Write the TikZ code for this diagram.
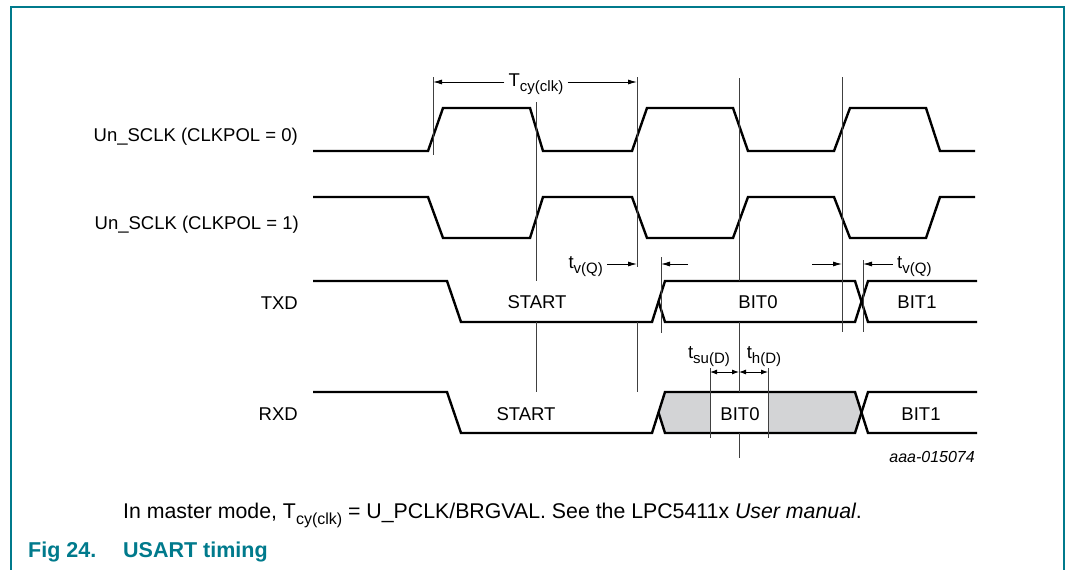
\documentclass[tikz,border=0pt]{standalone}
\usepackage{fontspec}
\setmainfont{Liberation Sans}
\usetikzlibrary{arrows.meta}
\definecolor{nxpteal}{RGB}{0,122,140}
\definecolor{shadegray}{RGB}{211,212,214}
\newcommand\lowsub[1]{\raisebox{-0.3em}{\fontsize{15}{16}\selectfont #1}}
\newcommand\notesub[1]{\raisebox{-0.3em}{\fontsize{16}{17}\selectfont #1}}
\begin{document}
\begin{tikzpicture}[x=1pt,y=-1pt,
  sig/.style={line width=2.4pt, line join=miter},
  refl/.style={line width=0.9pt, black!75},
  lbl/.style={font=\fontsize{18.5}{20}\selectfont, inner sep=0pt},
  dim/.style={line width=0.9pt, -{Latex[length=9pt,width=5pt]}},
  ddim/.style={line width=0.9pt, {Latex[length=7pt,width=5pt]}-{Latex[length=7pt,width=5pt]}},
  capt/.style={inner sep=0pt, anchor=base west, text=nxpteal, font=\fontsize{21.5}{23}\selectfont\bfseries},
]
\useasboundingbox (0,0) rectangle (1066,570);
\draw[nxpteal, line width=2pt] (10.5,570) -- (10.5,7) -- (1064,7) -- (1064,570);

% signal labels
\node[lbl, anchor=base east] (l0) at (298,141) {Un\_SCLK (CLKPOL = 0)};
\node[lbl, anchor=base east] (l1) at (299,229) {Un\_SCLK (CLKPOL = 1)};
\node[lbl, anchor=base east] (ltx) at (298,309) {TXD};
\node[lbl, anchor=base east] (lrx) at (298,420) {RXD};

% RXD shaded data window
\fill[shadegray] (658.5,412.5) -- (665,392) -- (855,392) -- (861.5,412.5) -- (855,433) -- (665,433) -- cycle;
\fill[white] (710,392) rectangle (768,433);

% clock waveforms
\draw[sig] (313,151) -- (428,151) -- (443,108) -- (530,108) -- (543,151) -- (632,151) -- (647,108) -- (733,108) -- (748,151) -- (834,151) -- (850,108) -- (926,108) -- (940,151) -- (975,151);
\draw[sig] (313,197) -- (428,197) -- (443,238) -- (530,238) -- (543,197) -- (632,197) -- (647,238) -- (733,238) -- (748,197) -- (834,197) -- (850,238) -- (926,238) -- (940,197) -- (975,197);

% TXD
\draw[sig] (313,281) -- (447,281) -- (461,322) -- (652,322) -- (665,281) -- (855,281) -- (868,322) -- (977,322);
\draw[sig] (658.5,301.5) -- (665,322) -- (855,322) -- (868,281) -- (977,281);

% RXD
\draw[sig] (313,392) -- (447,392) -- (461,433) -- (652,433) -- (665,392) -- (855,392) -- (868,433) -- (977,433);
\draw[sig] (658.5,412.5) -- (665,433) -- (855,433) -- (868,392) -- (977,392);

% reference lines
\draw[refl] (433,77) -- (433,155);
\draw[refl] (536,102) -- (536,281) (536,322) -- (536,392);
\draw[refl] (637,77) -- (637,267) (637,322) -- (637,392);
\draw[refl] (739,78) -- (739,281) (739,322) -- (739,392) (739,433) -- (739,458);
\draw[refl] (842,77) -- (842,332);
\draw[refl] (661,257) -- (661,333);
\draw[refl] (863,260) -- (863,332);
\draw[refl] (710,368) -- (710,438);
\draw[refl] (768,368) -- (768,438);

% Tcy(clk)
\coordinate (tcyL) at (433,82);
\coordinate (tcyR) at (637,82);
\node[lbl, anchor=base, inner xsep=4pt] (tcy) at (536,86) {T\lowsub{cy(clk)}};
\draw[dim] (tcy.west |- tcyL) -- (tcyL);
\draw[dim] (tcy.east |- tcyR) -- (tcyR);

% tv(Q) markers
\coordinate (tvA) at (637,264);
\node[lbl, anchor=base east, inner xsep=4pt] (tv1) at (607,268) {t\lowsub{v(Q)}};
\draw[dim] (tv1.east |- tvA) -- (tvA);
\coordinate (tvB0) at (688,264);
\coordinate (tvB) at (661,264);
\draw[dim] (tvB0) -- (tvB);
\coordinate (tvC0) at (812,264);
\coordinate (tvC) at (842,264);
\draw[dim] (tvC0) -- (tvC);
\coordinate (tvD) at (863,264);
\node[lbl, anchor=base west] (tv2) at (897,268) {t\lowsub{v(Q)}};
\draw[dim] (tv2.west |- tvD) ++(-4,0) coordinate (tvD0) -- (tvD);

% setup / hold
\coordinate (su0) at (710,372);
\coordinate (su1) at (739,372);
\coordinate (h1) at (768,372);
\draw[ddim] (su0) -- (su1);
\draw[ddim] (su1) -- (h1);
\node[lbl, anchor=base] (tsu) at (709,358) {t\lowsub{su(D)}};
\node[lbl, anchor=base] (th) at (764,358) {t\lowsub{h(D)}};

% data labels
\node[lbl, anchor=base] (s1) at (537,308) {START};
\node[lbl, anchor=base] (s2) at (526,420) {START};
\node[lbl, anchor=base] (b0t) at (758,308) {BIT0};
\node[lbl, anchor=base] (b1t) at (917,308) {BIT1};
\node[lbl, anchor=base] (b0r) at (740,420) {BIT0};
\node[lbl, anchor=base] (b1r) at (921,420) {BIT1};

\node[inner sep=0pt, anchor=base east, font=\fontsize{16}{17}\selectfont\itshape] (code) at (975,462) {aaa-015074};

% notes and caption
\node[inner sep=0pt, anchor=base west, font=\fontsize{21.3}{23}\selectfont] (note) at (123,518) {In master mode, T\notesub{cy(clk)} = U\_PCLK/BRGVAL. See the LPC5411x \textit{User manual}.};
\node[capt] (fig) at (28,557) {Fig 24.};
\node[capt] (figt) at (123,557) {USART timing};
\end{tikzpicture}
\end{document}
